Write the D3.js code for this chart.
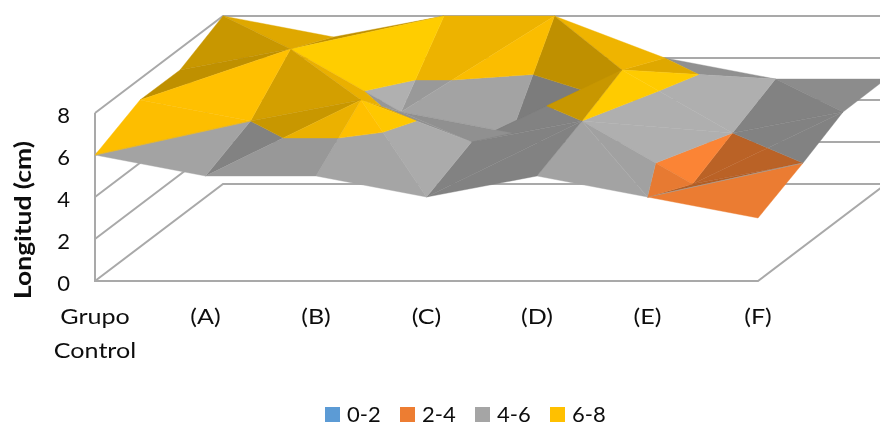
<!DOCTYPE html>
<html><head><meta charset="utf-8">
<script src="https://cdn.jsdelivr.net/npm/d3@7/dist/d3.min.js"></script>
<style>html,body{margin:0;padding:0;background:#fff}svg{display:block}text{font-family:Lato,"Open Sans",sans-serif;fill:#111}</style>
</head><body><svg id="c" width="880" height="426"></svg>
<script>
const categories = ["Grupo|Control","(A)","(B)","(C)","(D)","(E)","(F)"];
const yTicks = [0,2,4,6,8];
const row0 = [6,5,5,4,5,4,3];
const row1 = [7,6,7,5,6,3,4];
const row2 = [7,8,5,4,7,4,5];
const row3 = [8,7,8,8,6,5,5];
const rows = [row0,row1,row2,row3];
// which way each cell of the surface is cut into two triangles (1 = other diagonal)
const cut0 = [0,0,1,0,1,0];
const cut1 = [0,1,1,0,0,0];
const cut2 = [1,0,0,1,0,1];
const cuts = [cut0,cut1,cut2];
const bandNames = ["0-2","2-4","4-6","6-8"];
const bandColors = ["#5B9BD5","#ED7D31","#A5A5A5","#FFC000"];
const bandEdges = [0,2,4,6,8];

const svg = d3.select("#c");
const x = d3.scaleLinear().domain([0,6]).range([95,758]);
const y = d3.scaleLinear().domain([0,8]).range([281,113]);
const depthX = d3.scaleLinear().domain([0,1,2,3]).range([0,45,85,128]);
const depthY = d3.scaleLinear().domain([0,1,2,3]).range([0,-34,-64,-97]);
const defs = svg.append("defs");
defs.append("filter").attr("id","soft").append("feGaussianBlur").attr("stdDeviation",0.5);
defs.append("filter").attr("id","softer").append("feGaussianBlur").attr("stdDeviation",0.3);
const plot = svg.append("g").attr("filter","url(#soft)");
const P = (i,r,v)=>[x(i)+depthX(r), y(v)+depthY(r)];
const line = d3.line();

// walls and floor
const grid = plot.append("g").attr("fill","none").attr("stroke","#a9a9a9").attr("stroke-width",2);
yTicks.forEach(t=>{
  grid.append("path").attr("d",line([P(0,0,t),P(0,3,t),P(7,3,t)]));
});
grid.append("path").attr("d",line([P(0,0,8),P(0,0,0),P(6,0,0),P(6,3,0)]));

// surface
function clip(poly,test,edge){
  const out=[];
  poly.forEach((a,k)=>{
    const b=poly[(k+1)%poly.length];
    const ia=test(a.v), ib=test(b.v);
    if(ia) out.push(a);
    if(ia!==ib){
      const t=(edge-a.v)/(b.v-a.v);
      out.push({px:a.px+t*(b.px-a.px),py:a.py+t*(b.py-a.py),v:edge});
    }
  });
  return out;
}
const V=(i,r)=>{const v=rows[r][i],p=P(i,r,v);return{i,r,v,px:p[0],py:p[1]};};
function shade(a,b,c){
  // slope of the triangle along categories (gx) and along depth (gz)
  const u=[b.i-a.i,b.r-a.r,b.v-a.v],t=[c.i-a.i,c.r-a.r,c.v-a.v];
  const det=u[0]*t[1]-u[1]*t[0];
  const gx=(u[2]*t[1]-u[1]*t[2])/det, gz=(u[0]*t[2]-u[2]*t[0])/det;
  const s=0.4;
  const d=(-gx*s*0.7+0.3+gz*s*0.4)/Math.hypot(1,gx*s,gz*s);
  return Math.max(0.75,Math.min(1.13,0.72+0.42*d));
}
const surf=plot.append("g");
function tri(a,b,c){
  const m=shade(a,b,c);
  bandNames.forEach((nm,k)=>{
    const lo=bandEdges[k],hi=bandEdges[k+1];
    let p=clip([a,b,c],v=>v>=lo,lo);
    if(p.length) p=clip(p,v=>v<=hi,hi);
    if(p.length<3) return;
    const col=d3.rgb(bandColors[k]);
    const f=d3.rgb(Math.min(255,col.r*m),Math.min(255,col.g*m),Math.min(255,col.b*m)).formatHex();
    surf.append("path").attr("d",line(p.map(q=>[q.px,q.py]))+"Z").attr("fill",f).attr("stroke",f).attr("stroke-width",0.4);
  });
}
for(let r=rows.length-2;r>=0;r--){
  for(let i=categories.length-2;i>=0;i--){
    const a=V(i,r),b=V(i+1,r),c=V(i+1,r+1),d=V(i,r+1);
    if(cuts[r][i]){ tri(d,b,c); tri(a,b,d); }
    else { tri(a,c,d); tri(a,b,c); }
  }
}

const labels=svg.append("g").attr("filter","url(#softer)");
// y axis
const yAxis=d3.axisLeft(y).tickValues(yTicks).tickSize(0).tickPadding(0);
const ya=labels.append("g").attr("transform","translate(70,2)").call(yAxis);
ya.select(".domain").remove();
ya.selectAll("text").style("font-size","22px").style("font-family","Lato");
labels.append("text").attr("transform","translate(31,220) rotate(-90) scale(1.2,1)").attr("text-anchor","middle")
  .style("font-size","22px").style("font-weight","700").text("Longitud (cm)");

// categories
categories.forEach((c,i)=>{
  c.split("|").forEach((s,j)=>{
    labels.append("text").attr("transform",`translate(${x(i)},${324+j*34}) scale(1.14,1)`).attr("text-anchor","middle").style("font-size","22px").text(s);
  });
});

// legend
const legX=d3.scalePoint().domain(bandNames).range([325,550]);
bandNames.forEach((nm,k)=>{
  const g=labels.append("g").attr("transform",`translate(${legX(nm)},0)`);
  g.append("rect").attr("x",0).attr("y",407).attr("width",15).attr("height",15).attr("fill",bandColors[k]);
  g.append("text").attr("x",22).attr("y",422).style("font-size","22px").text(nm);
});
</script></body></html>
